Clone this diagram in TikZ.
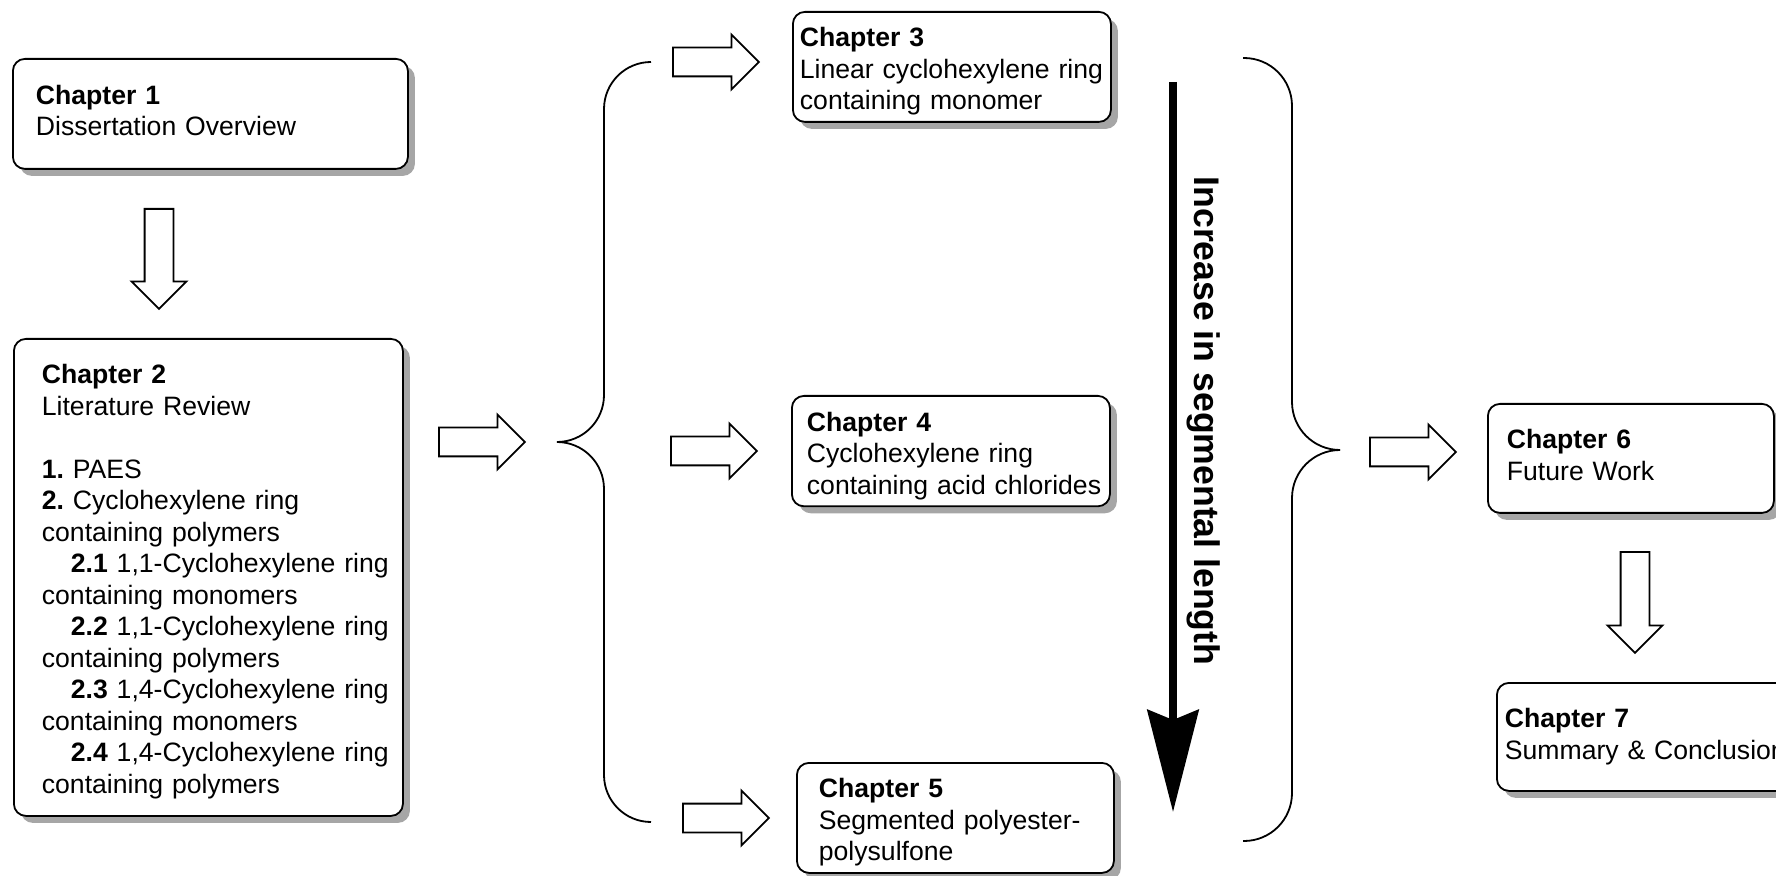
\documentclass[tikz,border=0pt]{standalone}
\usepackage{fontspec}
\setmainfont{Liberation Sans}
\usepackage{tikz}
\usetikzlibrary{shapes.arrows, shadows, arrows.meta}
\frenchspacing

\begin{document}
\begin{tikzpicture}[x=0.5pt, y=-0.5pt,
        chapter/.style={draw, line width=0.9pt, rounded corners=6pt, fill=white,
            drop shadow={shadow xshift=3.5pt, shadow yshift=-3.5pt, fill=black!35, opacity=1},
            anchor=north west, align=left, inner xsep=3pt, inner ysep=2pt,
            minimum height=55pt, font=\fontsize{13.3}{15.75}\selectfont},
        twoline/.style={text height=20.3pt, text depth=29.7pt},
        threeline/.style={text height=15.3pt, text depth=35.5pt},
        lpad/.style={execute at begin node={\leftskip=#1\relax}},
        blockarrow/.style={single arrow, draw, line width=0.9pt, fill=white,
            inner xsep=0pt, inner ysep=6.75pt, single arrow head extend=6.5pt,
            minimum height=43pt, anchor=tail},
        brace/.style={line width=0.9pt, rounded corners=#1}]
        \useasboundingbox (0,0) rectangle (1776,876);
        \clip (0,0) rectangle (1776,876);
        \node [chapter, twoline, text width=191.5pt, lpad=8.5pt] (1) at (12,58) {\textbf{Chapter 1}\\Dissertation Overview};
        \node [chapter, text height=20.3pt, text depth=214pt, text width=188.5pt, lpad=11pt, minimum height=238.5pt] (2) at (13,338) {\textbf{Chapter 2}\\Literature Review\\[15.75pt]
            \textbf{1.} PAES\\
            \textbf{2.} Cyclohexylene ring\\containing polymers\\
            \hspace*{14.5pt}\textbf{2.1} 1,1-Cyclohexylene ring\\containing monomers\\
            \hspace*{14.5pt}\textbf{2.2} 1,1-Cyclohexylene ring\\containing polymers\\
            \hspace*{14.5pt}\textbf{2.3} 1,4-Cyclohexylene ring\\containing monomers\\
            \hspace*{14.5pt}\textbf{2.4} 1,4-Cyclohexylene ring\\containing polymers};
        \node [chapter, threeline, inner xsep=0pt, text width=159pt, lpad=3.5pt] (3) at (792,11) {\textbf{Chapter 3}\\Linear cyclohexylene ring\\containing monomer};
        \node [chapter, threeline, text height=15.7pt, text width=153pt, lpad=4.5pt] (4) at (791,395) {\textbf{Chapter 4}\\Cyclohexylene ring\\containing acid chlorides};
        \node [chapter, threeline, text width=152.5pt, lpad=8pt] (5) at (796,762) {\textbf{Chapter 5}\\Segmented polyester-\\polysulfone};
        \node [chapter, twoline, text width=137pt, lpad=6.5pt, minimum height=54.5pt] (6) at (1487,403) {\textbf{Chapter 6}\\Future Work};
        \node [chapter, twoline, text width=149pt, lpad=1pt, minimum height=54pt] (7) at (1496,682) {\textbf{Chapter 7}\\Summary \& Conclusion};
        \node [blockarrow, rotate=-90, minimum height=50pt] (to2) at (159,208) {};
        \node [blockarrow] (tob) at (438,442) {};
        \node [blockarrow] (to3) at (672,62) {};
        \node [blockarrow] (to4) at (670,451) {};
        \node [blockarrow] (to5) at (682,818) {};
        \node [blockarrow] (to6) at (1369,452) {};
        \node [blockarrow, rotate=-90, minimum height=50.5pt] (to7) at (1635,551) {};
        \draw [brace=23.5pt] (651,62) -- (604,62) -- (604,442) -- (557,442);
        \draw [brace=23.5pt] (557,442) -- (604,442) -- (604,822) -- (651,822);
        \draw [brace=24pt] (1243,58) -- (1292,58) -- (1292,450) -- (1340,450);
        \draw [brace=24pt] (1340,450) -- (1292,450) -- (1292,841) -- (1243,841);
        \coordinate (lentop) at (1173,82);
        \coordinate (lenend) at (1173,812);
        \draw [line width=4pt, -{Stealth[length=51pt, width=25.5pt, inset=5pt]}] (lentop) -- (lenend);
        \node [rotate=-90, anchor=base, font=\bfseries\fontsize{17.8}{21}\selectfont] (len) at (1194,421) {Increase in segmental length};
    \end{tikzpicture}
\end{document}
